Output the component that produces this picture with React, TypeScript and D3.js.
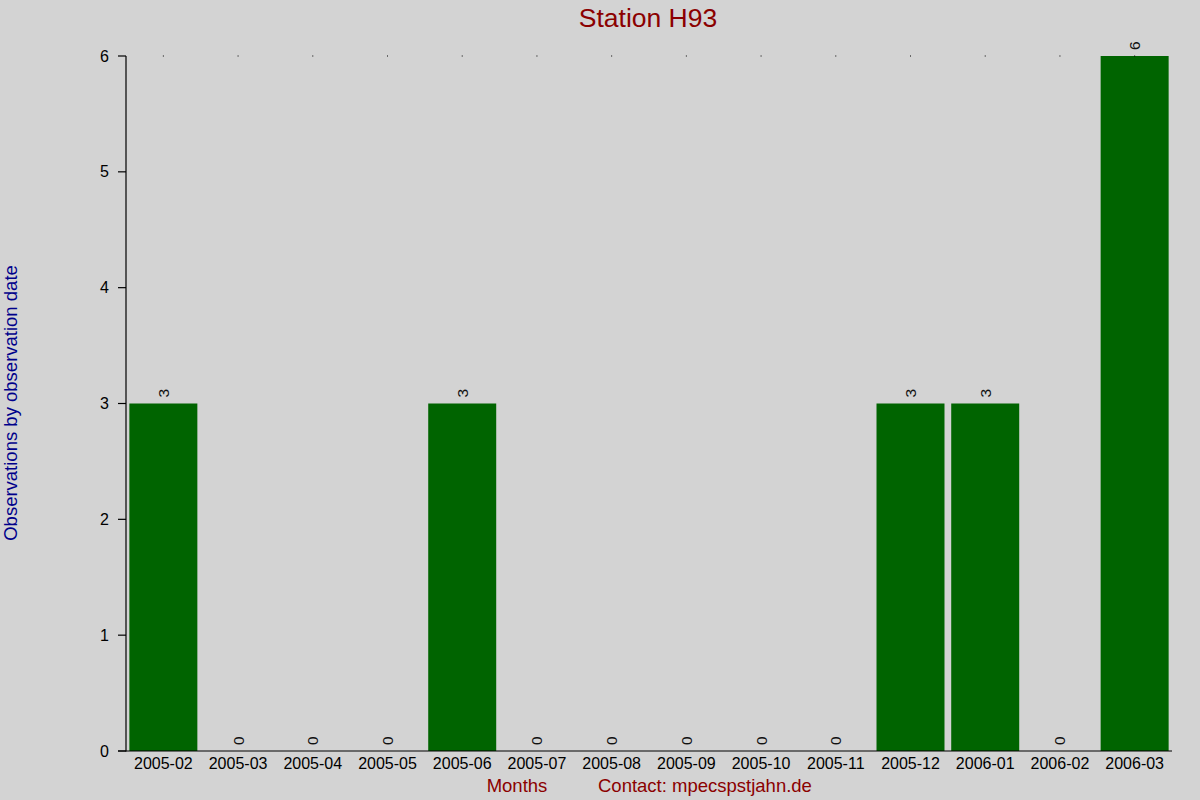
import { useEffect, useRef } from "react";
import * as d3 from "d3";

const months = [
  "2005-02", "2005-03", "2005-04", "2005-05", "2005-06", "2005-07", "2005-08",
  "2005-09", "2005-10", "2005-11", "2005-12", "2006-01", "2006-02", "2006-03",
];
const counts = [3, 0, 0, 0, 3, 0, 0, 0, 0, 0, 3, 3, 0, 6];
const yTicks = [0, 1, 2, 3, 4, 5, 6];

const W = 1200;
const H = 800;
const left = 126;
const right = 1172;
const top = 56;
const bottom = 751;

export default function App() {
  const ref = useRef<SVGSVGElement>(null);

  useEffect(() => {
    const svg = d3.select(ref.current);
    svg.selectAll("*").remove();

    const font = "Liberation Sans, Arial, sans-serif";

    svg.append("rect").attr("width", W).attr("height", H).attr("fill", "#d3d3d3");

    const x = d3
      .scaleBand<string>()
      .domain(months)
      .range([left, right])
      .paddingInner(0.09)
      .paddingOuter(0.045);

    const y = d3.scaleLinear().domain([0, 6]).range([bottom, top]);

    const data = months.map((m, i) => ({ m, v: counts[i] }));

    // bars
    svg
      .selectAll(".bar")
      .data(data)
      .enter()
      .append("rect")
      .attr("class", "bar")
      .attr("x", (d) => x(d.m)!)
      .attr("y", (d) => y(d.v))
      .attr("width", x.bandwidth())
      .attr("height", (d) => bottom - y(d.v))
      .attr("fill", "#006400");

    // value labels, rotated
    svg
      .selectAll(".val")
      .data(data)
      .enter()
      .append("text")
      .attr("class", "val")
      .attr("transform", (d) => `translate(${x(d.m)! + x.bandwidth() / 2 + 5.5},${y(d.v) - 6}) rotate(-90)`)
      .attr("font-family", font)
      .attr("font-size", 15.5)
      .attr("fill", "#111")
      .text((d) => d.v);

    // dots at top
    svg
      .selectAll(".dot")
      .data(months)
      .enter()
      .append("rect")
      .attr("x", (d) => x(d)! + x.bandwidth() / 2 - 0.5)
      .attr("y", top - 0.5)
      .attr("width", 1)
      .attr("height", 1)
      .attr("fill", "#000");

    // axes lines
    svg.append("line").attr("x1", left).attr("x2", left).attr("y1", top).attr("y2", bottom + 0.5)
      .attr("stroke", "#000").attr("stroke-width", 1.2);
    svg.append("line").attr("x1", 118).attr("x2", right).attr("y1", bottom).attr("y2", bottom)
      .attr("stroke", "#000").attr("stroke-width", 1.2);

    // y ticks
    const yt = svg.append("g");
    yTicks.forEach((t) => {
      yt.append("line").attr("x1", 118).attr("x2", left).attr("y1", y(t)).attr("y2", y(t))
        .attr("stroke", "#000").attr("stroke-width", 1.2);
      yt.append("text")
        .attr("x", 109)
        .attr("y", y(t) + 5.5)
        .attr("text-anchor", "end")
        .attr("font-family", font)
        .attr("font-size", 16)
        .attr("fill", "#000")
        .text(t);
    });

    // x tick labels
    svg
      .selectAll(".xl")
      .data(months)
      .enter()
      .append("text")
      .attr("x", (d) => x(d)! + x.bandwidth() / 2)
      .attr("y", 769)
      .attr("text-anchor", "middle")
      .attr("font-family", font)
      .attr("font-size", 16)
      .attr("fill", "#000")
      .text((d) => d);

    // title
    svg.append("text")
      .attr("x", 648)
      .attr("y", 27)
      .attr("text-anchor", "middle")
      .attr("font-family", font)
      .attr("font-size", 26.5)
      .attr("fill", "#8b0000")
      .text("Station H93");

    // y label
    svg.append("text")
      .attr("transform", "translate(17,403) rotate(-90)")
      .attr("text-anchor", "middle")
      .attr("font-family", font)
      .attr("font-size", 18.5)
      .attr("fill", "#00008b")
      .text("Observations by observation date");

    // x labels
    svg.append("text")
      .attr("x", 517)
      .attr("y", 792)
      .attr("text-anchor", "middle")
      .attr("font-family", font)
      .attr("font-size", 18.5)
      .attr("fill", "#8b0000")
      .text("Months");

    svg.append("text")
      .attr("x", 598)
      .attr("y", 792)
      .attr("font-family", font)
      .attr("font-size", 18.5)
      .attr("fill", "#8b0000")
      .text("Contact: mpecspstjahn.de");
  }, []);

  return (
    <svg
      ref={ref}
      width={W}
      height={H}
      style={{ position: "absolute", left: 0, top: 0, display: "block" }}
    />
  );
}
